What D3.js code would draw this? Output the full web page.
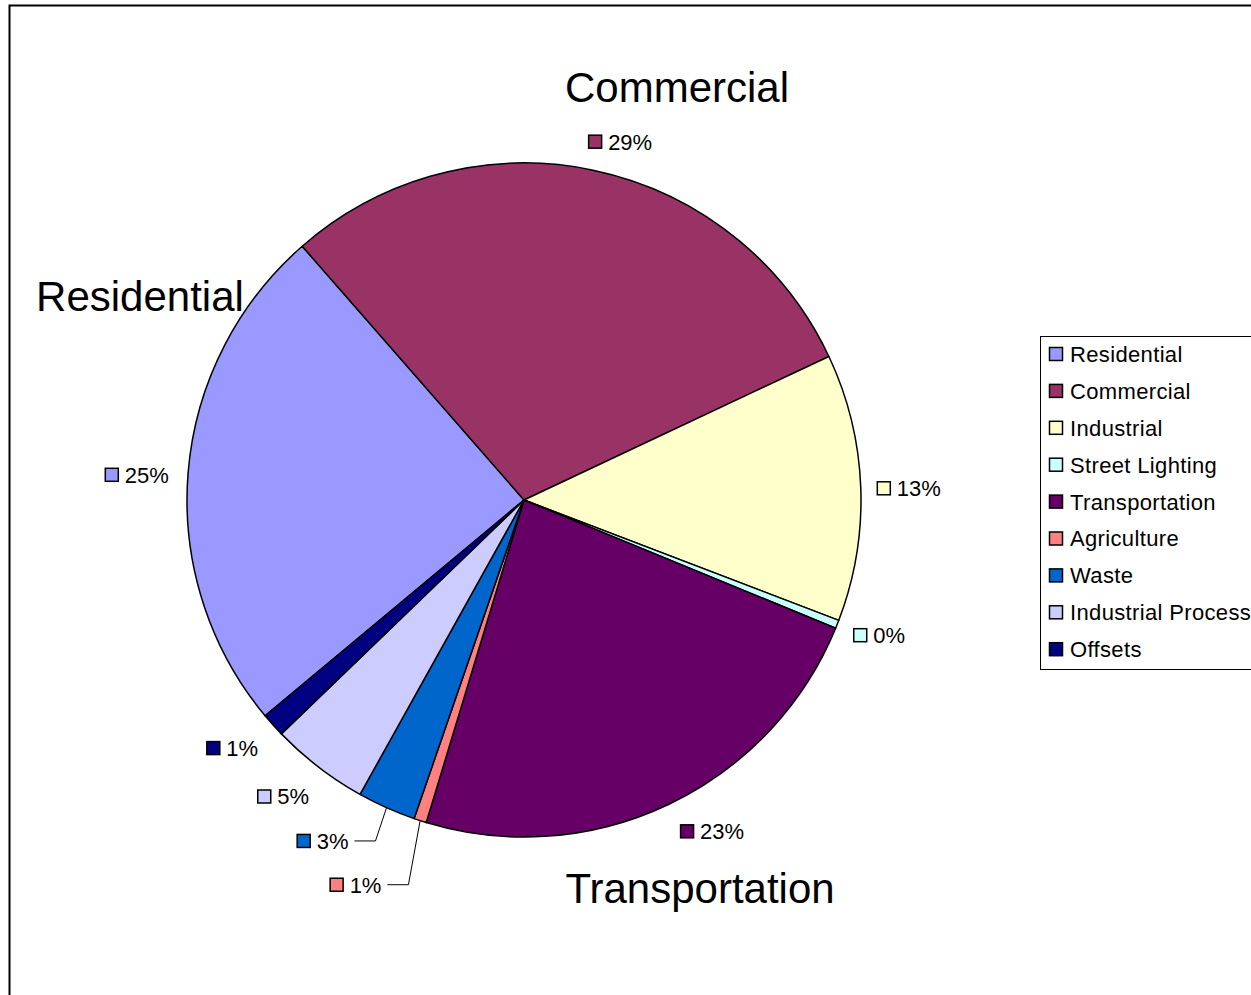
<!DOCTYPE html>
<html>
<head>
<meta charset="utf-8">
<script src="https://cdn.jsdelivr.net/npm/d3@7/dist/d3.min.js"></script>
<style>
  html, body { margin: 0; padding: 0; background: #fff; }
  svg { display: block; font-family: "Liberation Sans", Arial, sans-serif; }
</style>
</head>
<body>
<svg id="chart" width="1251" height="995"></svg>
<script>
// ---- data ----
const categories = ["Residential", "Commercial", "Industrial", "Street Lighting", "Transportation",
                    "Agriculture", "Waste", "Industrial Process", "Offsets"];
const shares = [24.6, 29.4, 12.8, 0.4, 23.45, 0.6, 2.8, 4.7, 1.15];
const colors = ["#9999FF", "#993366", "#FFFFCC", "#CCFFFF", "#660066",
                "#FF8080", "#0066CC", "#CCCCFF", "#000080"];
const bigLabels = ["Commercial", "Residential", "Transportation"];

// ---- layout ----
const cx = 524, cy = 500, R = 337;
const startDeg = 230.2;
const svg = d3.select("#chart");

// outer chart border
svg.append("rect").attr("x", 9.5).attr("y", 5.5).attr("width", 1400).attr("height", 1200)
  .attr("fill", "none").attr("stroke", "#000").attr("stroke-width", 2);

const total = d3.sum(shares);
const data = categories.map((c, i) => ({ name: c, value: shares[i], color: colors[i] }));

const pie = d3.pie().value(d => d.value).sort(null)
  .startAngle(startDeg * Math.PI / 180)
  .endAngle(startDeg * Math.PI / 180 + 2 * Math.PI);
const arcs = pie(data);
const arc = d3.arc().innerRadius(0).outerRadius(R);

const g = svg.append("g").attr("transform", `translate(${cx},${cy})`);
g.selectAll("path.slice").data(arcs).enter().append("path")
  .attr("class", "slice")
  .attr("d", arc)
  .attr("fill", d => d.data.color)
  .attr("stroke", "#000")
  .attr("stroke-width", 1.5)
  .attr("stroke-linejoin", "round");

// percentage labels: label-centre placement in polar terms (deg offset from slice mid, radial distance)
const fmt = v => Math.round(v / total * 100) + "%";
const labelPlace = {
  "Residential":        { da: -0.8, dist: 388 },
  "Commercial":         { da: 3.2,  dist: 371 },
  "Industrial":         { da: 0.4,  dist: 385 },
  "Street Lighting":    { da: -0.8, dist: 380 },
  "Transportation":     { da: -4.2, dist: 381 },
  "Agriculture":        { da: 5.7,  dist: 420, leader: true },
  "Waste":              { da: 6.5,  dist: 396, leader: true },
  "Industrial Process": { da: 1.5,  dist: 382 },
  "Offsets":            { da: 1.5,  dist: 383 }
};
const sq = 13;

arcs.forEach(a => {
  const mid = (a.startAngle + a.endAngle) / 2;
  const lp = labelPlace[a.data.name];
  const ang = mid + lp.da * Math.PI / 180;
  const lg = g.append("g");
  lg.append("rect").attr("x", 0.5).attr("y", -sq / 2).attr("width", sq).attr("height", sq)
    .attr("fill", a.data.color).attr("stroke", "#000").attr("stroke-width", 1.5);
  const t = lg.append("text").attr("x", 20).attr("y", 0).attr("dy", "0.36em")
    .attr("font-size", 22).attr("fill", "#000").text(fmt(a.data.value));
  const w = 20 + t.node().getComputedTextLength();
  const hw = w / 2;
  const lx = lp.dist * Math.sin(ang), ly = -lp.dist * Math.cos(ang);
  lg.attr("transform", `translate(${lx - hw},${ly})`);
  if (lp.leader) {
    const ex = R * Math.sin(mid), ey = -R * Math.cos(mid);
    const x0 = lx + hw + 6;
    g.append("path")
      .attr("d", d3.line()([[x0, ly], [x0 + 21, ly], [ex, ey]]))
      .attr("fill", "none").attr("stroke", "#000").attr("stroke-width", 1);
  }
});

// big category titles
const bigPos = { "Commercial": [677, 102], "Residential": [140, 311], "Transportation": [700, 903] };
bigLabels.forEach(n => {
  svg.append("text").attr("x", bigPos[n][0]).attr("y", bigPos[n][1])
    .attr("text-anchor", "middle").attr("font-size", 42).attr("fill", "#000").text(n);
});

// legend
const lgX = 1040, lgY = 336, lgH = 333, rowH = 36.9;
svg.append("rect").attr("x", lgX + 0.5).attr("y", lgY + 0.5).attr("width", 400).attr("height", lgH)
  .attr("fill", "#fff").attr("stroke", "#000").attr("stroke-width", 1);
const items = svg.selectAll("g.leg").data(data).enter().append("g")
  .attr("class", "leg")
  .attr("transform", (d, i) => `translate(${lgX + 9},${lgY + 18 + i * rowH})`);
items.append("rect").attr("x", 0.5).attr("y", -sq / 2).attr("width", sq).attr("height", sq)
  .attr("fill", d => d.color).attr("stroke", "#000").attr("stroke-width", 1.5);
items.append("text").attr("x", 21).attr("y", 0).attr("dy", "0.36em")
  .attr("font-size", 22).attr("letter-spacing", 0.35).attr("fill", "#000").text(d => d.name);
</script>
</body>
</html>
